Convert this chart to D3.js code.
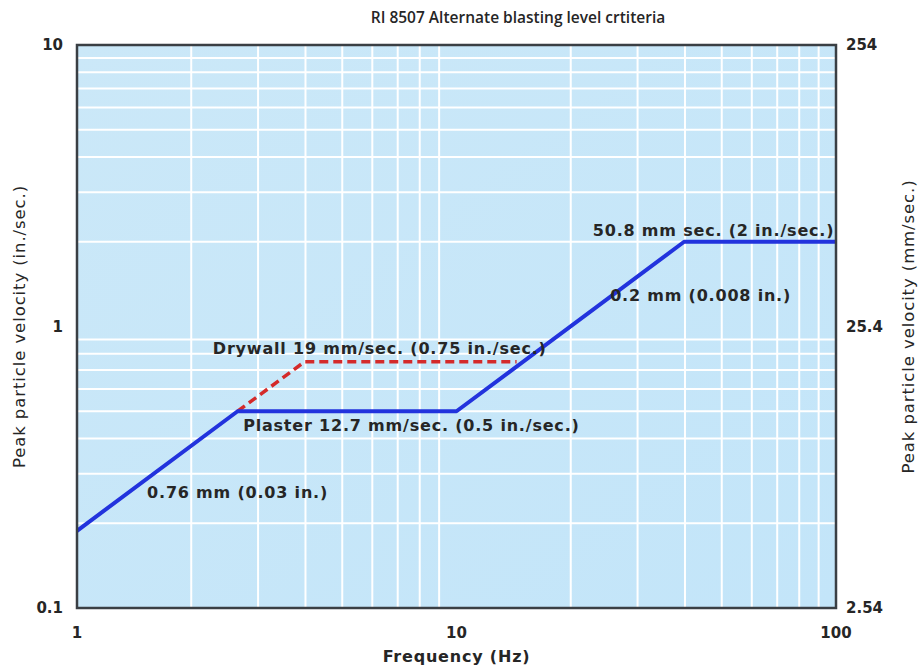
<!DOCTYPE html>
<html>
<head>
<meta charset="utf-8">
<script src="https://cdn.jsdelivr.net/npm/d3@7"></script>
<style>
  body { margin: 0; background: #fff; }
  text { font-family: "DejaVu Sans", sans-serif; fill: #262626; }
</style>
</head>
<body>
<div id="chart"></div>
<script>
// Limit line (blue): frequency (Hz) and peak particle velocity (in./sec.)
const plasterFreq = [1, 2.65, 10, 39.8, 100];
const plasterVel = [0.188, 0.5, 0.5, 2, 2];

// Drywall alternate limit (red dashed)
const drywallFreq = [2.65, 3.98, 14.4];
const drywallVel = [0.5, 0.75, 0.75];

const xTicks = [1, 10, 100];
const yTicks = [0.1, 1, 10];
const yTicksMm = ["2.54", "25.4", "254"];

const annotations = [
  { text: "50.8 mm sec. (2 in./sec.)", f: 99, v: 2.1, anchor: "end" },
  { text: "0.2 mm (0.008 in.)", f: 25.4, v: 1.23, anchor: "start" },
  { text: "Drywall 19 mm/sec. (0.75 in./sec.)", f: 2.28, v: 0.798, anchor: "start" },
  { text: "Plaster 12.7 mm/sec. (0.5 in./sec.)", f: 2.74, v: 0.4256, anchor: "start" },
  { text: "0.76 mm (0.03 in.)", f: 1.53, v: 0.246, anchor: "start" }
];

const margin = { top: 45, right: 84, bottom: 58, left: 77 };
const width = 920 - margin.left - margin.right;
const height = 666 - margin.top - margin.bottom;

const svg = d3
  .select("#chart")
  .append("svg")
  .attr("width", 920)
  .attr("height", 666);

const defs = svg.append("defs");
const grad = defs.append("linearGradient")
  .attr("id", "bg")
  .attr("x1", "0").attr("y1", "0").attr("x2", "1").attr("y2", "1");
grad.append("stop").attr("offset", "0%").attr("stop-color", "#cbe8f8");
grad.append("stop").attr("offset", "100%").attr("stop-color", "#c3e5f9");

const g = svg.append("g")
  .attr("transform", "translate(" + margin.left + "," + margin.top + ")");

const x = d3.scaleLog().domain([1, 100]).range([0, width]);
const y = d3.scaleLog().domain([0.1, 10]).range([height, 0]);

// Background
g.append("rect")
  .attr("width", width)
  .attr("height", height)
  .attr("fill", "url(#bg)");

// Gridlines
const minorX = x.ticks().filter(d => !xTicks.includes(d));
const minorY = y.ticks().filter(d => !yTicks.includes(d));

g.append("g")
  .selectAll("line")
  .data(minorX)
  .enter()
  .append("line")
  .attr("x1", d => x(d)).attr("x2", d => x(d))
  .attr("y1", 0).attr("y2", height)
  .attr("stroke", "#fff")
  .attr("stroke-width", 2);

g.append("g")
  .selectAll("line")
  .data(minorY)
  .enter()
  .append("line")
  .attr("y1", d => y(d)).attr("y2", d => y(d))
  .attr("x1", 0).attr("x2", width)
  .attr("stroke", "#fff")
  .attr("stroke-width", 2);

// Lines
const line = d3.line().x(d => x(d[0])).y(d => y(d[1]));

g.append("path")
  .datum(drywallFreq.map((f, i) => [f, drywallVel[i]]))
  .attr("d", line)
  .attr("fill", "none")
  .attr("stroke", "#d42a2a")
  .attr("stroke-width", 3.5)
  .attr("stroke-dasharray", "9,5");

g.append("path")
  .datum(plasterFreq.map((f, i) => [f, plasterVel[i]]))
  .attr("d", line)
  .attr("fill", "none")
  .attr("stroke", "#2233dd")
  .attr("stroke-width", 4)
  .attr("stroke-linejoin", "round");

// Frame
g.append("rect")
  .attr("width", width)
  .attr("height", height)
  .attr("fill", "none")
  .attr("stroke", "#3a3f44")
  .attr("stroke-width", 2.5);

// Annotations
g.selectAll(".note")
  .data(annotations)
  .enter()
  .append("text")
  .attr("class", "note")
  .attr("x", d => x(d.f))
  .attr("y", d => y(d.v))
  .attr("text-anchor", d => d.anchor)
  .style("font-size", "16px")
  .style("font-weight", "bold")
  .style("letter-spacing", "0.8px")
  .text(d => d.text);

// X tick labels
g.selectAll(".xt")
  .data(xTicks)
  .enter()
  .append("text")
  .attr("x", d => x(d))
  .attr("y", height + 30)
  .attr("text-anchor", "middle")
  .style("font-size", "15px")
  .style("font-weight", "bold")
  .text(d => d);

// Left tick labels
g.selectAll(".yt")
  .data(yTicks)
  .enter()
  .append("text")
  .attr("x", -14)
  .attr("y", d => y(d) + 5)
  .attr("text-anchor", "end")
  .style("font-size", "15px")
  .style("font-weight", "bold")
  .text(d => d);

// Right tick labels
g.selectAll(".yt2")
  .data(yTicks)
  .enter()
  .append("text")
  .attr("x", width + 10)
  .attr("y", (d, i) => y(d) + 5)
  .attr("text-anchor", "start")
  .style("font-size", "15px")
  .style("font-weight", "bold")
  .text((d, i) => yTicksMm[i]);

// Title
svg.append("text")
  .attr("x", 518)
  .attr("y", 23)
  .attr("text-anchor", "middle")
  .style("font-family", "'Open Sans', sans-serif")
  .style("font-size", "15.5px")
  .style("font-weight", "600")
  .text("RI 8507  Alternate blasting level crtiteria");

// X label
svg.append("text")
  .attr("x", margin.left + width / 2)
  .attr("y", 662)
  .attr("text-anchor", "middle")
  .style("font-size", "16px")
  .style("font-weight", "bold")
  .style("letter-spacing", "0.8px")
  .text("Frequency (Hz)");

// Left y label
svg.append("text")
  .attr("transform", "rotate(-90)")
  .attr("x", -(margin.top + height / 2))
  .attr("y", 25)
  .attr("text-anchor", "middle")
  .style("font-size", "16.5px")
  .style("letter-spacing", "0.9px")
  .text("Peak particle velocity (in./sec.)");

// Right y label
svg.append("text")
  .attr("transform", "rotate(-90)")
  .attr("x", -(margin.top + height / 2))
  .attr("y", 914)
  .attr("text-anchor", "middle")
  .style("font-size", "16.5px")
  .style("letter-spacing", "0.9px")
  .text("Peak particle velocity (mm/sec.)");
</script>
</body>
</html>
